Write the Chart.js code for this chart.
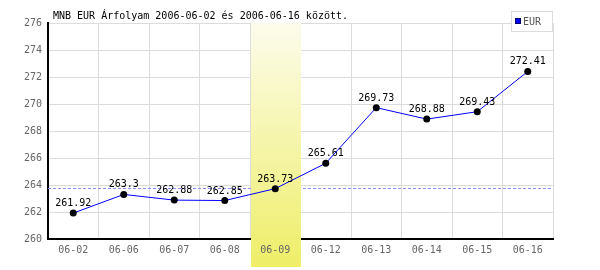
<!DOCTYPE html>
<html>
<head>
<meta charset="utf-8">
<script src="https://cdn.jsdelivr.net/npm/chart.js@4"></script>
<style>
html,body{margin:0;padding:0;background:#fff;}
canvas{display:block;}
</style>
</head>
<body>
<canvas id="c" width="600" height="270"></canvas>
<script>
const titleText = 'MNB EUR Árfolyam 2006-06-02 és 2006-06-16 között.';
const seriesName = 'EUR';
const categories = ['06-02','06-06','06-07','06-08','06-09','06-12','06-13','06-14','06-15','06-16'];
const eurValues = [261.92, 263.3, 262.88, 262.85, 263.73, 265.61, 269.73, 268.88, 269.43, 272.41];
const valueLabels = ['261.92','263.3','262.88','262.85','263.73','265.61','269.73','268.88','269.43','272.41'];
const highlightIndex = 4;
const yMin = 260, yMax = 276, yStep = 2;

const FONT = '"DejaVu Sans Mono", monospace';

const overlayPlugin = {
  id: 'overlay',
  beforeDatasetsDraw(chart) {
    const ctx = chart.ctx, ca = chart.chartArea;
    const xs = chart.scales.x, ys = chart.scales.y;
    const yRef = Math.round(ys.getPixelForValue(eurValues[highlightIndex])) - 0.5;
    ctx.save();
    ctx.strokeStyle = '#8c8cf4';
    ctx.lineWidth = 1;
    ctx.setLineDash([3, 2]);
    ctx.beginPath();
    ctx.moveTo(ca.left, yRef);
    ctx.lineTo(ca.right, yRef);
    ctx.stroke();
    ctx.restore();
    const cx = xs.getPixelForValue(highlightIndex);
    const half = (ca.right - ca.left) / categories.length / 2;
    const x0 = Math.round(cx - half) + 1, x1 = Math.round(cx + half);
    const top = ca.top, bot = 267;
    const g = ctx.createLinearGradient(0, top, 0, bot);
    g.addColorStop(0, '#fcfcec');
    g.addColorStop(1, '#eeee68');
    ctx.save();
    ctx.fillStyle = g;
    ctx.fillRect(x0, top, x1 - x0, bot - top);
    ctx.restore();
  },
  afterDatasetsDraw(chart) {
    const ctx = chart.ctx;
    const meta = chart.getDatasetMeta(0);
    ctx.save();
    ctx.font = '10px ' + FONT;
    ctx.fillStyle = '#000';
    ctx.textAlign = 'center';
    ctx.textBaseline = 'alphabetic';
    meta.data.forEach((pt, i) => {
      ctx.fillText(valueLabels[i], pt.x, pt.y - 7);
    });
    ctx.restore();
  },
  afterDraw(chart) {
    const ctx = chart.ctx;
    ctx.save();
    ctx.font = '10px ' + FONT;
    ctx.fillStyle = '#000';
    ctx.textAlign = 'left';
    ctx.textBaseline = 'alphabetic';
    ctx.fillText(titleText, 53, 19);
    ctx.fillStyle = '#fff';
    ctx.fillRect(512, 12, 40, 19);
    ctx.strokeStyle = '#dcdcdc';
    ctx.lineWidth = 1;
    ctx.strokeRect(511.5, 11.5, 41, 20);
    ctx.fillStyle = '#0000ff';
    ctx.fillRect(516, 19, 5, 5);
    ctx.strokeStyle = '#000066';
    ctx.strokeRect(515.5, 18.5, 5, 5);
    ctx.fillStyle = '#555';
    ctx.font = '10px ' + FONT;
    ctx.fillText(seriesName, 523, 25);
    ctx.restore();
  }
};

new Chart(document.getElementById('c'), {
  type: 'line',
  data: {
    labels: categories,
    datasets: [{
      label: seriesName,
      data: eurValues,
      borderColor: '#0000ff',
      borderWidth: 1,
      pointRadius: 3.5,
      pointBackgroundColor: '#000',
      pointBorderColor: '#000',
      pointBorderWidth: 0,
      tension: 0,
      fill: false
    }]
  },
  options: {
    responsive: false,
    animation: false,
    devicePixelRatio: 1,
    layout: { padding: { left: 0, top: 23, right: 47, bottom: 0 } },
    plugins: { legend: { display: false }, title: { display: false }, tooltip: { enabled: false } },
    scales: {
      x: {
        type: 'category',
        offset: true,
        afterFit(s) { s.height = 31; },
        grid: { offset: true, color: '#dcdcdc', lineWidth: 1, drawTicks: false },
        border: { display: true, color: '#000', width: 2 },
        ticks: { z: 1, color: '#666', padding: 5, font: { family: FONT, size: 10 }, maxRotation: 0, autoSkip: false }
      },
      y: {
        min: yMin, max: yMax,
        afterFit(s) { s.width = 48; },
        grid: { color: '#dcdcdc', lineWidth: 1, drawTicks: false },
        border: { display: true, color: '#000', width: 2 },
        ticks: { stepSize: yStep, color: '#666', padding: 6, font: { family: FONT, size: 10 } }
      }
    }
  },
  plugins: [overlayPlugin]
});
</script>
</body>
</html>
